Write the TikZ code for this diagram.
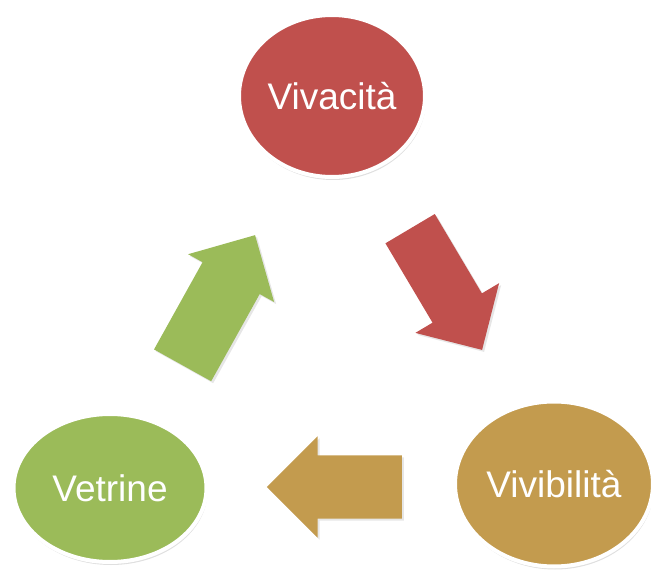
\documentclass[tikz,border=0pt]{standalone}
\usepackage{fontspec}
\setmainfont{Liberation Sans}
\usetikzlibrary{shapes.geometric,shapes.arrows,shadows}
\definecolor{cred}{HTML}{C0504D}
\definecolor{cgreen}{HTML}{9BBB59}
\definecolor{cgold}{HTML}{C39B4E}

\begin{document}
\begin{tikzpicture}[
  x=1pt, y=1pt,
  c/.style={ellipse, draw=white, line width=4pt, inner sep=0pt, text=white,
    font=\fontsize{37}{40}\selectfont,
    drop shadow={opacity=0.25, shadow xshift=1pt, shadow yshift=-3pt}},
  blk/.style={single arrow, anchor=tail, inner xsep=0pt, draw=none,
    drop shadow={opacity=0.2, shadow xshift=2pt, shadow yshift=-2pt}}
]
  \useasboundingbox (0,0) rectangle (651,574);
  % the three circles
  \node[c, fill=cred, minimum width=186pt, minimum height=162pt] (viv) at (332,478) {Vivacità};
  \node[c, fill=cgold, minimum width=198pt, minimum height=165pt] (vib) at (554,90) {Vivibilità};
  \node[c, fill=cgreen, minimum width=193pt, minimum height=148pt] (vet) at (110,86) {Vetrine};
  % block arrows between them
  \node[blk, fill=cred, rotate=-59.3, minimum height=141pt, inner ysep=28.5pt,
    single arrow head extend=20pt] (a1) at (410,345.5) {};
  \node[blk, fill=cgold, rotate=180, minimum height=135pt, inner ysep=31.5pt,
    single arrow head extend=19pt] (a2) at (402,87) {};
  \node[blk, fill=cgreen, rotate=60.9, minimum height=149pt, inner ysep=32.5pt,
    single arrow head extend=16.5pt] (a3) at (182.5,208.5) {};
\end{tikzpicture}
\end{document}
